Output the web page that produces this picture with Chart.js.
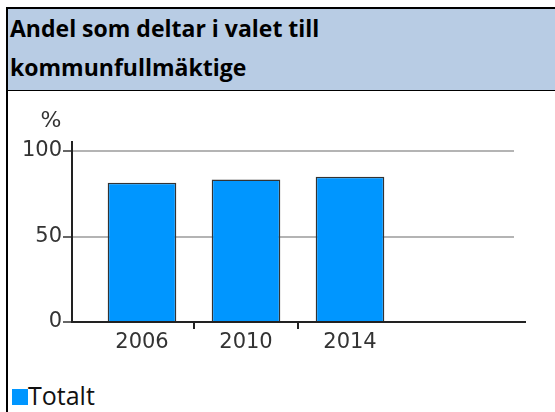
<!DOCTYPE html>
<html>
<head>
<meta charset="utf-8">
<title>Andel som deltar i valet</title>
<script src="https://cdn.jsdelivr.net/npm/chart.js@4.4.1/dist/chart.umd.min.js"></script>
<style type="text/css">
body{ margin:0; width:555px; height:412px; overflow:hidden; background:#fff; position:relative; }
.frame{ position:absolute; left:6px; top:7px; width:560px; height:420px; border-left:2px solid #000; border-top:2px solid #000; }
.head{ position:absolute; left:8px; top:9px; width:560px; height:82px; box-sizing:border-box; padding:0 0 0 2px;
	background:#b8cce4; border-bottom:1px solid #000; font:bold 23px "Open Sans"; line-height:39px; color:#000; }
#wrap{ position:absolute; left:0; top:92px; width:555px; height:280px; }
#legend{ position:absolute; left:12px; top:378px; font:25px "Open Sans"; color:#111; white-space:nowrap; }
#legend i{ display:inline-block; width:16px; height:16px; }
</style>
</head>
<body>
<div class="frame"></div>
<div class="head">Andel som deltar i valet till<br>kommunfullmäktige</div>
<div id="wrap"><canvas id="chart"></canvas></div>
<div id="legend"></div>

<script type="text/javascript">

var years = ['2006', '2010', '2014'];
var totalt = [81.4, 83.4, 84.9];
var yTicks = [0, 50, 100];
var unit = '%';
var seriesName = 'Totalt';

var tickFont = { family: 'DejaVu Sans', size: 21 };

// axis lines, tick marks and grid are drawn by hand, the library only places the labels
var axesPlugin = {
	id: 'axes',
	beforeDatasetsDraw: function(chart) {
		var ctx = chart.ctx, y = chart.scales.y;
		var left = chart.chartArea.left - 18;
		ctx.save();
		ctx.strokeStyle = '#b4b4b4';
		ctx.lineWidth = 2;
		yTicks.forEach(function(v) {
			if (v === 0) return;
			var py = Math.round(y.getPixelForValue(v));
			ctx.beginPath();
			ctx.moveTo(left, py);
			ctx.lineTo(514, py);
			ctx.stroke();
		});
		ctx.restore();
	},
	afterDatasetsDraw: function(chart) {
		var ctx = chart.ctx, x = chart.scales.x, y = chart.scales.y;
		var left = chart.chartArea.left - 18;
		var base = Math.round(y.getPixelForValue(0));
		var half = (x.getPixelForValue(1) - x.getPixelForValue(0)) / 2;
		ctx.save();
		ctx.strokeStyle = '#333';
		ctx.lineWidth = 1.5;
		yTicks.forEach(function(v) {
			var py = Math.round(y.getPixelForValue(v));
			ctx.beginPath();
			ctx.moveTo(left - 9, py);
			ctx.lineTo(left, py);
			ctx.stroke();
		});
		ctx.strokeStyle = '#222';
		ctx.lineWidth = 2;
		ctx.beginPath();
		ctx.moveTo(left, y.getPixelForValue(100) - 10);
		ctx.lineTo(left, base + 1);
		ctx.moveTo(left, base);
		ctx.lineTo(526, base);
		ctx.stroke();
		for (var i = 0; i < years.length - 1; i++) {
			var px = Math.round(x.getPixelForValue(i) + half);
			ctx.beginPath();
			ctx.moveTo(px, base);
			ctx.lineTo(px, base + 7);
			ctx.stroke();
		}
		ctx.fillStyle = '#333';
		ctx.font = '22px "DejaVu Sans"';
		ctx.textAlign = 'center';
		ctx.textBaseline = 'middle';
		ctx.fillText(unit, left - 21, y.getPixelForValue(100) - 30);
		ctx.restore();
	}
};

var chart = new Chart(document.getElementById('chart').getContext('2d'), {
	type: 'bar',
	data: {
		labels: years,
		datasets: [{
			label: seriesName,
			data: totalt,
			backgroundColor: '#0096ff',
			borderColor: '#333',
			borderWidth: 1.5,
			categoryPercentage: 1,
			barPercentage: 0.66
		}]
	},
	options: {
		responsive: true,
		maintainAspectRatio: false,
		animation: false,
		layout: { padding: { top: 59, right: 153, bottom: 0, left: 0 } },
		plugins: { legend: { display: false }, tooltip: { enabled: false } },
		scales: {
			x: {
				grid: { display: false, drawTicks: false },
				border: { display: false },
				ticks: { color: '#333', font: tickFont, padding: 8, maxRotation: 0 },
				afterFit: function(s) { s.height = 50; }
			},
			y: {
				min: 0,
				max: 100,
				grid: { display: false, drawTicks: false },
				border: { display: false },
				ticks: { color: '#333', font: tickFont, padding: 28 },
				afterBuildTicks: function(s) { s.ticks = yTicks.map(function(v) { return { value: v }; }); },
				afterFit: function(s) { s.width = 90; }
			}
		}
	},
	plugins: [axesPlugin]
});

var ds = chart.data.datasets[0];
document.getElementById('legend').innerHTML = '<i style="background:' + ds.backgroundColor + '"></i>' + ds.label;

</script>
</body>
</html>
